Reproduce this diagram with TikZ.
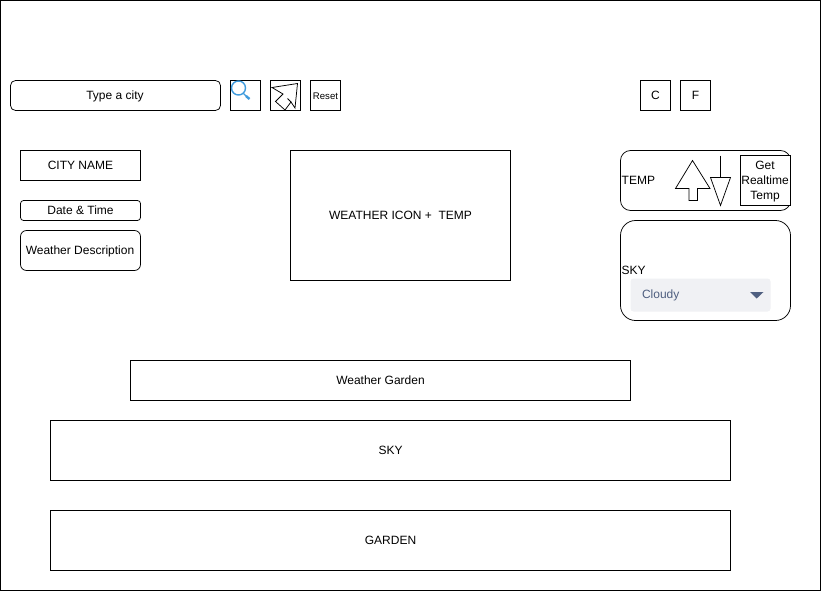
\documentclass[tikz,border=0pt]{standalone}
\usepackage{fontspec}
\usetikzlibrary{calc}
\setmainfont{Liberation Sans}
\definecolor{slatetext}{HTML}{4F5F80}
\definecolor{slatebg}{HTML}{F0F1F4}
\definecolor{magblue}{HTML}{3F9BDD}
\tikzset{x=1pt,y=-1pt,
 every node/.style={outer sep=0pt},
 wbox/.style={draw=black,line width=.75pt,fill=white,inner sep=0pt,align=center,font=\fontsize{12}{15}\selectfont},
 rr/.style={wbox,rounded corners=#1},
 rr/.default=5pt,
 plain/.style={inner sep=0pt,font=\fontsize{12}{15}\selectfont},
 shape line/.style={draw=black,line width=.75pt,line join=miter}}
\begin{document}
\begin{tikzpicture}
\useasboundingbox (0,0) rectangle (821,591);
\node[draw=black,line width=.75pt,minimum width=820pt,minimum height=590pt,anchor=north west,inner sep=0pt] (frame) at (.5,.5) {};
\node[rr=5pt,minimum width=210pt,minimum height=30pt,anchor=north west] (city) at (10.5,80.5) {};
\node[plain] (citylabel) at ($(city.center)+(-.5,.7)$) {Type a city};
\node[wbox,minimum width=30pt,minimum height=30pt,anchor=north west] (search) at (230.5,80.5) {};
\node[wbox,minimum width=30pt,minimum height=30pt,anchor=north west] (loc) at (270.5,80.5) {};
\node[wbox,minimum width=30pt,minimum height=30pt,anchor=north west] (reset) at (310.5,80.5) {};
\node[plain,font=\fontsize{9.6}{12}\selectfont] (resetlabel) at ($(reset.center)+(0,.7)$) {Reset};
\node[wbox,minimum width=30pt,minimum height=30pt,anchor=north west] (c) at (640.5,80.5) {C};
\node[wbox,minimum width=30pt,minimum height=30pt,anchor=north west] (f) at (680.5,80.5) {F};
% magnifier
\draw[magblue,line width=1.4pt] (238.5,88) circle (7pt);
\draw[magblue,line width=1.2pt] (243.5,93.5) -- (246.5,96.5);
\draw[magblue,line width=2.4pt] (246,96) -- (249.5,99);
% location arrow
\draw[shape line] (297.5,83.5) -- (272,87.5) -- (283,94) -- (275.5,101.5) -- (285,110) -- (291,102) -- (295,108) -- cycle;
\draw[shape line] (291,102) -- (287.5,98.5);
% left column
\node[wbox,minimum width=120pt,minimum height=30pt,anchor=north west] (cname) at (20.5,150.5) {CITY NAME};
\node[rr=3pt,minimum width=120pt,minimum height=20pt,anchor=north west] (dt) at (20.5,200.5) {Date \& Time};
\node[rr=6pt,minimum width=120pt,minimum height=40pt,anchor=north west] (wd) at (20.5,230.5) {};
\node[plain] (wdlabel) at ($(wd.center)+(-.5,.7)$) {Weather Description};
% centre
\node[wbox,minimum width=220pt,minimum height=130pt,anchor=north west] (icon) at (290.5,150.5) {WEATHER ICON +\ \ TEMP};
% temp panel
\node[rr=10pt,minimum width=170pt,minimum height=60pt,anchor=north west] (temp) at (620.5,150.5) {};
\node[plain,anchor=west] (templ) at (621.7,180) {TEMP};
\draw[shape line,fill=white] (692.5,160.5) -- (710,188.5) -- (697.5,188.5) -- (697.5,200.5) -- (689,200.5) -- (689,188.5) -- (675.5,188.5) -- cycle;
\draw[shape line,fill=white] (710.5,177.5) -- (730.5,177.5) -- (720.5,205.5) -- cycle;
\draw[shape line] (720.5,155.5) -- (720.5,177.5);
\node[wbox,minimum width=50pt,minimum height=50pt,anchor=north west] (rt) at (740.5,155.5) {};
\node[plain,align=center] (rtlabel) at ($(rt.center)+(-.5,.7)$) {Get\\Realtime\\Temp};
% sky panel
\node[rr=15pt,minimum width=170pt,minimum height=100pt,anchor=north west] (skyp) at (620.5,220.5) {};
\node[plain,anchor=west] (skyl) at (621.7,270) {SKY};
\node[fill=slatebg,rounded corners=3pt,minimum width=140pt,minimum height=33pt,anchor=north west,inner sep=0pt] (dd) at (630.5,278.5) {};
\node[plain,anchor=west,text=slatetext] (ddl) at (642,295.7) {Cloudy};
\fill[slatetext] (750,292) -- (763.5,292) -- (756.7,298.5) -- cycle;
% bottom
\node[wbox,minimum width=500pt,minimum height=40pt,anchor=north west] (wg) at (130.5,360.5) {Weather Garden};
\node[wbox,minimum width=680pt,minimum height=60pt,anchor=north west] (sky) at (50.5,420.5) {SKY};
\node[wbox,minimum width=680pt,minimum height=60pt,anchor=north west] (gar) at (50.5,510.5) {GARDEN};
\end{tikzpicture}
\end{document}
